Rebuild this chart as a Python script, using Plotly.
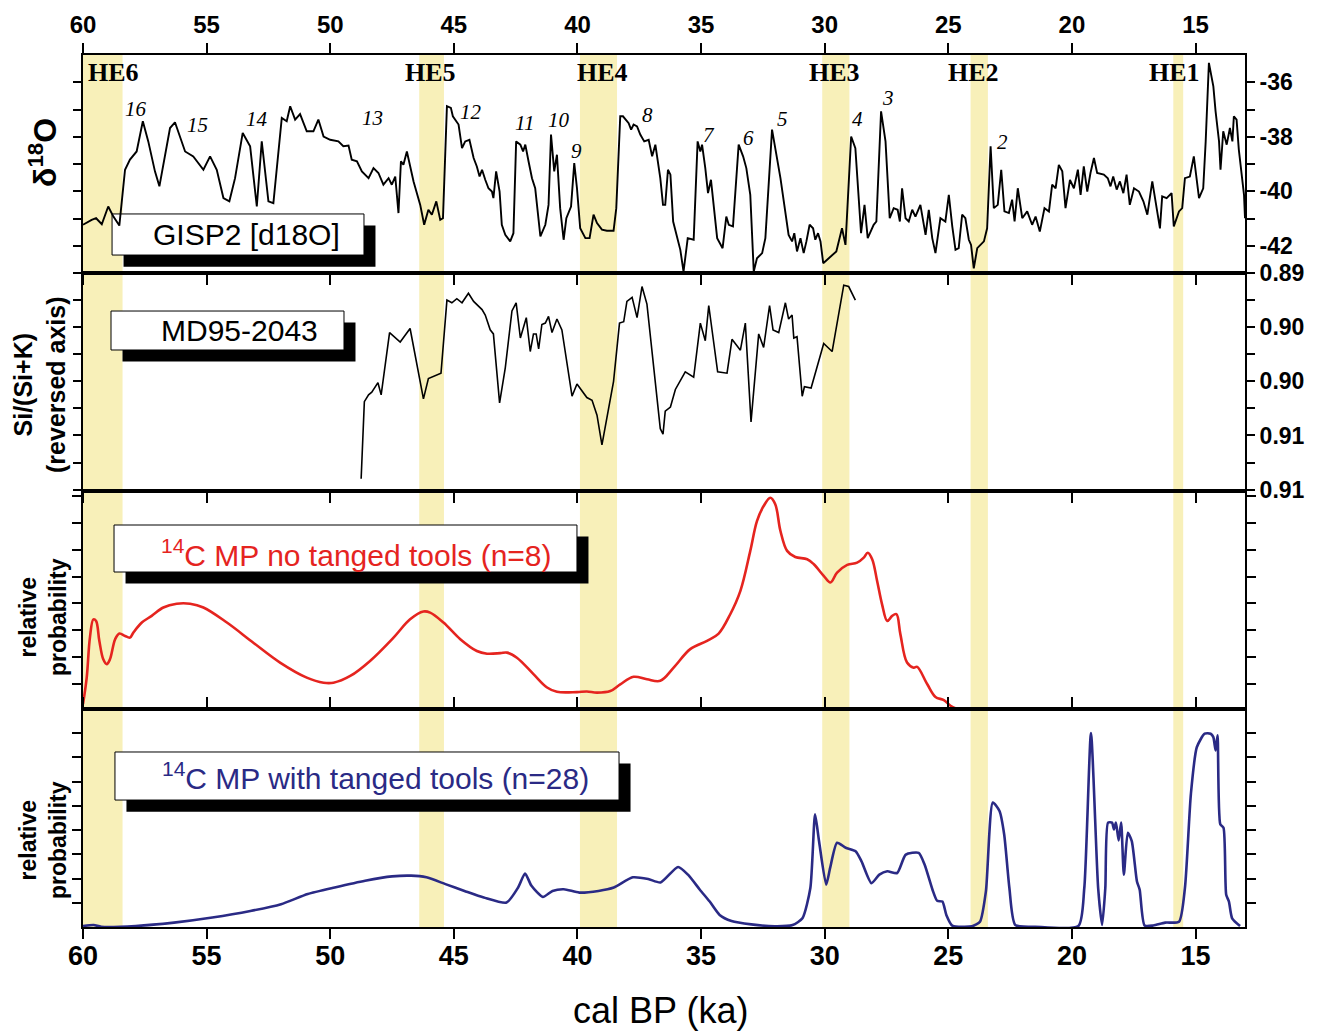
import plotly.graph_objects as go
from plotly.subplots import make_subplots

# ---------------- data ----------------
# GISP2 ice core oxygen isotope record (age in ka cal BP, d18O in permil)
gisp2_age = [60.00, 59.65, 59.47, 59.24, 58.98, 58.77, 58.53, 58.30, 58.10, 57.83,
             57.58, 57.36, 57.09, 56.91, 56.48, 56.28, 55.87, 55.54, 55.13, 54.86,
             54.59, 54.32, 54.08, 53.85, 53.54, 53.24, 52.97, 52.77, 52.50, 52.30,
             51.96, 51.76, 51.62, 51.42, 51.22, 50.95, 50.68, 50.48, 50.27, 50.00,
             49.67, 49.47, 49.26, 49.13, 48.92, 48.72, 48.45, 48.25, 48.05, 47.85,
             47.64, 47.51, 47.37, 47.24, 47.14, 47.04, 46.90, 46.63, 46.36, 46.20,
             46.03, 45.89, 45.71, 45.55, 45.44, 45.28, 45.12, 45.04, 44.81, 44.67,
             44.54, 44.37, 44.20, 44.07, 43.96, 43.86, 43.73, 43.60, 43.46, 43.40,
             43.29, 43.15, 43.06, 42.92, 42.72, 42.59, 42.48, 42.31, 42.20, 42.11,
             41.98, 41.84, 41.71, 41.50, 41.30, 41.17, 41.07, 40.94, 40.83, 40.70,
             40.56, 40.45, 40.26, 40.13, 40.02, 39.89, 39.68, 39.51, 39.35, 39.21,
             39.01, 38.81, 38.54, 38.43, 38.27, 38.16, 37.93, 37.83, 37.73, 37.59,
             37.46, 37.30, 37.12, 36.98, 36.85, 36.65, 36.54, 36.45, 36.34, 36.24,
             36.13, 35.97, 35.84, 35.71, 35.54, 35.30, 35.14, 35.03, 34.96, 34.83,
             34.72, 34.60, 34.49, 34.35, 34.13, 33.98, 33.88, 33.71, 33.48, 33.30,
             33.17, 33.01, 32.87, 32.74, 32.53, 32.40, 32.13, 31.93, 31.79, 31.46,
             31.32, 31.23, 31.12, 30.98, 30.85, 30.74, 30.61, 30.47, 30.38, 30.27,
             30.17, 30.06, 29.90, 29.53, 29.30, 29.16, 28.93, 28.76, 28.53, 28.39,
             28.26, 28.02, 27.91, 27.72, 27.54, 27.37, 27.21, 27.05, 26.96, 26.87,
             26.73, 26.60, 26.46, 26.33, 26.13, 25.92, 25.79, 25.65, 25.52, 25.32,
             25.12, 24.98, 24.84, 24.71, 24.58, 24.44, 24.31, 24.17, 24.08, 23.97,
             23.83, 23.56, 23.43, 23.29, 23.16, 23.00, 22.86, 22.73, 22.55, 22.42,
             22.32, 22.19, 22.01, 21.81, 21.61, 21.47, 21.30, 21.11, 20.93, 20.80,
             20.66, 20.53, 20.39, 20.26, 20.08, 19.92, 19.76, 19.65, 19.52, 19.38,
             19.25, 19.11, 18.98, 18.71, 18.55, 18.44, 18.33, 18.19, 18.06, 17.92,
             17.79, 17.66, 17.49, 17.29, 17.11, 16.95, 16.75, 16.62, 16.44, 16.35,
             16.17, 15.97, 15.88, 15.67, 15.54, 15.43, 15.23, 15.07, 14.86, 14.69,
             14.59, 14.46, 14.36, 14.28, 14.19, 14.05, 13.99, 13.88, 13.74, 13.61,
             13.51, 13.45, 13.34, 13.25, 13.04, 13.00]
gisp2_d18o = [-41.23, -41.05, -40.99, -41.21, -40.56, -40.93, -41.26, -39.21, -38.84, -38.54,
              -37.43, -38.17, -39.27, -39.82, -37.68, -37.47, -38.54, -38.72, -39.21, -38.72,
              -39.21, -40.25, -40.37, -39.52, -37.86, -38.35, -40.56, -38.17, -40.37, -40.44,
              -37.31, -37.43, -36.88, -37.37, -37.17, -37.80, -37.80, -37.37, -37.99, -38.11,
              -38.17, -38.35, -38.32, -38.84, -38.90, -39.27, -39.52, -39.15, -39.33, -39.76,
              -39.52, -39.76, -39.46, -40.80, -38.90, -39.03, -38.54, -39.64, -40.50, -41.23,
              -40.68, -40.86, -40.37, -41.05, -40.99, -36.88, -36.94, -37.25, -37.55, -38.42,
              -38.17, -38.11, -38.78, -39.09, -39.46, -39.21, -39.58, -39.89, -40.01, -40.25,
              -39.27, -40.01, -41.23, -41.60, -41.84, -41.54, -38.17, -38.29, -38.54, -38.29,
              -38.90, -39.52, -39.89, -41.66, -41.23, -40.50, -37.92, -39.27, -38.66, -40.62,
              -41.78, -40.99, -40.56, -38.97, -39.89, -41.36, -41.72, -41.72, -40.86, -41.17,
              -41.41, -41.45, -41.45, -40.62, -37.25, -37.25, -37.50, -37.74, -37.55, -37.62,
              -37.92, -38.17, -38.11, -38.72, -38.29, -39.52, -40.50, -40.50, -39.21, -39.39,
              -41.11, -41.72, -42.15, -42.95, -41.72, -41.78, -38.17, -38.54, -38.29, -39.15,
              -40.07, -39.58, -40.62, -41.72, -42.09, -40.93, -41.23, -41.29, -38.29, -38.72,
              -39.15, -40.13, -42.95, -42.46, -42.27, -41.72, -37.74, -38.78, -39.52, -41.60,
              -41.84, -41.54, -42.21, -41.72, -42.27, -41.84, -41.23, -41.36, -41.78, -41.54,
              -41.84, -42.64, -42.52, -42.21, -41.36, -41.97, -37.99, -38.42, -41.54, -40.50,
              -41.72, -41.23, -41.11, -37.07, -38.17, -40.99, -40.62, -40.68, -41.11, -39.89,
              -40.99, -41.11, -40.68, -40.93, -40.50, -41.60, -40.68, -41.72, -42.27, -40.99,
              -41.11, -40.13, -41.29, -42.15, -42.09, -40.86, -40.99, -41.78, -41.97, -42.83,
              -42.09, -41.84, -41.36, -38.35, -40.62, -40.50, -39.21, -40.74, -40.80, -40.31,
              -41.11, -39.89, -40.99, -40.74, -41.23, -40.93, -41.48, -40.62, -40.74, -39.76,
              -39.89, -39.03, -39.27, -40.62, -39.58, -39.89, -39.21, -40.13, -39.09, -40.01,
              -39.33, -38.78, -39.33, -39.39, -39.52, -39.82, -39.46, -39.94, -39.64, -40.07,
              -39.39, -40.50, -39.89, -40.01, -40.37, -40.86, -39.64, -40.37, -41.36, -40.19,
              -40.25, -40.07, -41.29, -40.74, -40.62, -39.52, -39.46, -38.72, -40.25, -39.89,
              -38.17, -35.29, -35.72, -36.15, -37.07, -38.17, -39.21, -37.80, -38.29, -37.68,
              -38.17, -37.25, -37.37, -38.47, -40.13, -40.99]

# MD95-2043 Si/(Si+K) ratio (plotted on a reversed axis)
md95_age = [48.75, 48.62, 48.45, 48.32, 48.07, 47.94, 47.60, 47.17, 46.77, 46.23,
            46.03, 45.52, 45.28, 45.08, 44.88, 44.67, 44.41, 44.20, 43.86, 43.73,
            43.53, 43.40, 43.15, 42.92, 42.65, 42.48, 42.31, 42.07, 41.91, 41.78,
            41.67, 41.57, 41.44, 41.30, 41.17, 41.03, 40.83, 40.63, 40.22, 40.02,
            39.62, 39.41, 39.21, 39.01, 38.54, 38.30, 38.13, 38.00, 37.79, 37.59,
            37.39, 37.19, 36.65, 36.54, 36.45, 36.24, 36.04, 35.64, 35.30, 35.03,
            34.83, 34.69, 34.33, 33.95, 33.75, 33.41, 33.21, 32.98, 32.67, 32.47,
            32.23, 32.09, 31.86, 31.59, 31.46, 31.32, 31.25, 31.12, 30.91, 30.82,
            30.55, 30.04, 29.70, 29.23, 29.03, 28.76]
md95_ratio = [0.9092, 0.9035, 0.9030, 0.9028, 0.9021, 0.9030, 0.8984, 0.8991, 0.8981, 0.9033,
              0.9018, 0.9014, 0.8960, 0.8962, 0.8959, 0.8962, 0.8955, 0.8961, 0.8967, 0.8971,
              0.8982, 0.8985, 0.9036, 0.9010, 0.8968, 0.8962, 0.8988, 0.8973, 0.8998, 0.8985,
              0.8985, 0.8996, 0.8978, 0.8977, 0.8972, 0.8984, 0.8974, 0.8982, 0.9031, 0.9022,
              0.9032, 0.9034, 0.9045, 0.9067, 0.9020, 0.8977, 0.8976, 0.8961, 0.8958, 0.8973,
              0.8950, 0.8963, 0.9055, 0.9059, 0.9042, 0.9039, 0.9026, 0.9013, 0.9017, 0.8977,
              0.8990, 0.8964, 0.9013, 0.9014, 0.8989, 0.8997, 0.8977, 0.9050, 0.8985, 0.8995,
              0.8964, 0.8982, 0.8984, 0.8962, 0.8974, 0.8971, 0.8988, 0.8987, 0.9031, 0.9024,
              0.9025, 0.8992, 0.8998, 0.8949, 0.8950, 0.8960]

# summed 14C probability, Middle Palaeolithic without tanged tools (n=8)
mp_plain_age = [60.00, 59.85, 59.72, 59.58, 59.47, 59.34, 59.18, 59.04, 58.91, 58.70,
                58.53, 58.30, 58.10, 57.96, 57.62, 57.22, 56.75, 56.21, 55.67, 55.13,
                54.18, 53.11, 52.03, 50.95, 50.27, 49.87, 49.19, 48.39, 47.44, 46.77,
                46.23, 45.96, 45.42, 44.74, 44.07, 43.66, 43.12, 42.85, 42.45, 41.78,
                41.23, 40.83, 40.02, 39.62, 39.21, 38.67, 38.27, 37.73, 37.19, 36.65,
                36.11, 35.44, 34.76, 34.29, 33.82, 33.41, 33.01, 32.74, 32.47, 32.20,
                32.00, 31.79, 31.52, 31.19, 30.71, 30.44, 30.04, 29.77, 29.50, 29.09,
                28.69, 28.42, 28.26, 28.08, 27.88, 27.68, 27.47, 27.27, 27.10, 26.94,
                26.67, 26.40, 26.26, 25.85, 25.52, 25.18, 24.91, 24.64]
mp_plain_prob = [0.25, 1.24, 2.73, 3.41, 3.35, 2.61, 1.92, 1.74, 1.92, 2.67,
                 2.88, 2.79, 2.73, 2.92, 3.29, 3.54, 3.85, 3.99, 3.99, 3.85,
                 3.29, 2.54, 1.80, 1.24, 1.05, 1.05, 1.30, 1.86, 2.73, 3.41,
                 3.70, 3.66, 3.29, 2.67, 2.23, 2.13, 2.15, 2.17, 1.98, 1.37,
                 0.87, 0.71, 0.70, 0.72, 0.68, 0.74, 0.99, 1.27, 1.18, 1.12,
                 1.61, 2.30, 2.61, 2.88, 3.60, 4.47, 5.96, 7.07, 7.63, 7.94,
                 7.70, 6.70, 5.96, 5.73, 5.65, 5.46, 5.03, 4.78, 5.15, 5.44,
                 5.52, 5.71, 5.89, 5.65, 4.84, 3.97, 3.35, 3.54, 3.60, 2.86,
                 1.80, 1.61, 1.64, 0.99, 0.52, 0.40, 0.19, 0.07]

# summed 14C probability, Middle Palaeolithic with tanged tools (n=28)
mp_tanged_age = [60.00, 59.57, 59.26, 57.87, 56.32, 54.77, 53.23, 51.99, 50.91, 49.82,
                 48.59, 47.50, 46.73, 46.11, 45.34, 44.57, 43.79, 42.87, 42.40, 42.12,
                 41.86, 41.40, 41.01, 40.55, 39.93, 39.15, 38.53, 37.76, 37.14, 36.64,
                 35.93, 35.53, 35.05, 34.65, 34.25, 33.77, 32.97, 32.02, 31.30, 30.90,
                 30.58, 30.39, 30.23, 29.94, 29.78, 29.50, 29.15, 28.75, 28.51, 28.11,
                 27.79, 27.47, 27.07, 26.72, 26.20, 25.96, 25.64, 25.45, 25.24, 25.08,
                 24.84, 24.04, 23.72, 23.48, 23.20, 22.93, 22.74, 22.53, 22.29, 21.49,
                 19.74, 19.50, 19.23, 18.94, 18.78, 18.65, 18.54, 18.38, 18.30, 18.22,
                 18.11, 18.01, 17.90, 17.74, 17.58, 17.37, 17.26, 17.06, 16.71, 16.23,
                 15.67, 15.43, 15.19, 14.95, 14.63, 14.39, 14.28, 14.19, 14.11, 14.00,
                 13.87, 13.76, 13.65, 13.52, 13.20]
mp_tanged_prob = [0.04, 0.08, 0.01, 0.04, 0.18, 0.39, 0.66, 0.94, 1.36, 1.63,
                  1.91, 2.09, 2.12, 2.05, 1.77, 1.49, 1.22, 1.01, 1.63, 2.21,
                  1.70, 1.24, 1.49, 1.56, 1.42, 1.49, 1.63, 2.05, 1.98, 1.84,
                  2.48, 2.16, 1.54, 1.05, 0.50, 0.25, 0.11, 0.03, 0.08, 0.36,
                  1.61, 4.65, 3.55, 1.75, 2.44, 3.48, 3.27, 3.13, 2.71, 1.81,
                  2.16, 2.30, 2.23, 2.99, 3.06, 2.58, 1.54, 1.08, 1.05, 0.50,
                  0.06, 0.03, 0.22, 1.47, 5.14, 4.79, 3.82, 1.61, 0.08, 0.01,
                  0.04, 1.61, 8.01, 1.61, 0.08, 1.61, 4.31, 4.31, 4.03, 4.31,
                  3.57, 4.31, 2.16, 3.89, 3.55, 1.88, 1.54, 0.06, 0.06, 0.18,
                  0.22, 1.61, 5.48, 7.42, 7.98, 7.98, 7.84, 7.29, 7.91, 4.24,
                  4.10, 1.33, 1.05, 0.36, 0.04]

# Heinrich events (ka cal BP)
he_names = ["HE6", "HE5", "HE4", "HE3", "HE2", "HE1"]
he_start = [60.0, 46.4, 39.9, 30.1, 24.1, 15.9]
he_end = [58.4, 45.4, 38.4, 29.0, 23.4, 15.5]

# Greenland interstadial numbers
gi_numbers = ["16", "15", "14", "13", "12", "11", "10", "9", "8", "7", "6", "5", "4", "3", "2"]

x_ticks = [60, 55, 50, 45, 40, 35, 30, 25, 20, 15]
d18o_major = [-42, -40, -38, -36]
d18o_labels = ["-42", "-40", "-38", "-36"]
d18o_minor = [-41, -39, -37]
ratio_major = [0.894, 0.898, 0.902, 0.906, 0.910]
ratio_labels = ["0.89", "0.90", "0.90", "0.91", "0.91"]
ratio_minor = [0.896, 0.900, 0.904, 0.908]
prob_ticks = [1, 2, 3, 4, 5, 6, 7, 8]

# ---------------- styling ----------------
SANS = "Liberation Sans, Arial, sans-serif"
NARROW = "Liberation Sans Narrow, Arial Narrow, Liberation Sans, sans-serif"
SERIF = "Liberation Serif, Times New Roman, serif"
RED = "#e5241f"
NAVY = "#2a2a85"
BAND = "#f8f0b9"

fig = make_subplots(rows=4, cols=1, vertical_spacing=0)

fig.add_trace(go.Scatter(x=gisp2_age, y=gisp2_d18o, mode="lines",
                         line=dict(color="black", width=1.9)), row=1, col=1)
fig.add_trace(go.Scatter(x=md95_age, y=md95_ratio, mode="lines",
                         line=dict(color="black", width=1.6)), row=2, col=1)
fig.add_trace(go.Scatter(x=mp_plain_age, y=mp_plain_prob, mode="lines",
                         line=dict(color=RED, width=2.6, shape="spline", smoothing=1.0)),
              row=3, col=1)
fig.add_trace(go.Scatter(x=mp_tanged_age, y=mp_tanged_prob, mode="lines",
                         line=dict(color=NAVY, width=2.6, shape="spline", smoothing=0.6)),
              row=4, col=1)

axis_common = dict(showline=True, linecolor="black", linewidth=2, showgrid=False,
                   zeroline=False, tickcolor="black", tickwidth=2)
minor_common = dict(ticks="outside", ticklen=8, tickwidth=2, tickcolor="black")

# x axes (reversed age scale)
fig.update_xaxes(range=[60, 13], tickvals=x_ticks, **axis_common)
fig.update_xaxes(row=1, col=1, side="top", ticks="outside", ticklen=10, mirror="allticks",
                 tickfont=dict(family=SANS, size=24, color="black", weight="bold"))
fig.update_xaxes(row=2, col=1, ticks="outside", ticklen=10, mirror=True, showticklabels=False)
fig.update_xaxes(row=3, col=1, ticks="", mirror=True, showticklabels=False)
fig.update_xaxes(row=4, col=1, ticks="outside", ticklen=10, mirror="allticks",
                 ticklabelstandoff=-6,
                 tickfont=dict(family=NARROW, size=27, color="black", weight="bold"))

# y axes
fig.update_yaxes(row=1, col=1, range=[-43.0, -35.0], side="right", tickvals=d18o_major,
                 ticktext=d18o_labels, ticks="outside", ticklen=8, mirror="allticks",
                 minor=dict(tickvals=d18o_minor, **minor_common),
                 tickfont=dict(family=SANS, size=23, color="black", weight="bold"), **axis_common)
fig.update_yaxes(row=2, col=1, range=[0.9101, 0.894], side="right", tickvals=ratio_major,
                 ticktext=ratio_labels, ticks="outside", ticklen=8, mirror="allticks",
                 minor=dict(tickvals=ratio_minor, **minor_common),
                 tickfont=dict(family=SANS, size=23, color="black", weight="bold"), **axis_common)
fig.update_yaxes(row=3, col=1, range=[0.07, 8.19], tickvals=prob_ticks, showticklabels=False,
                 ticks="outside", ticklen=9, mirror="allticks", **axis_common)
fig.update_yaxes(row=4, col=1, range=[0, 9], tickvals=prob_ticks, showticklabels=False,
                 ticks="outside", ticklen=9, mirror="allticks", **axis_common)

shapes = []
# Heinrich event bands spanning all panels
for s, e in zip(he_start, he_end):
    shapes.append(dict(type="rect", xref="x", yref="paper", x0=s, x1=e, y0=0, y1=1,
                       fillcolor=BAND, line=dict(width=0), layer="below"))

# label boxes with drop shadow (paper units)
label_boxes = [
    (0.0250, 0.2418, 0.7706, 0.8177),
    (0.0241, 0.2246, 0.6617, 0.7064),
    (0.0267, 0.4251, 0.4071, 0.4610),
    (0.0275, 0.4613, 0.1456, 0.2007),
]
sdx, sdy = 0.0099, -0.0133
for x0, x1, y0, y1 in label_boxes:
    shapes.append(dict(type="rect", xref="paper", yref="paper", x0=x0 + sdx, x1=x1 + sdx,
                       y0=y0 + sdy, y1=y1 + sdy, fillcolor="black", line=dict(width=0),
                       layer="below"))
    shapes.append(dict(type="rect", xref="paper", yref="paper", x0=x0, x1=x1, y0=y0, y1=y1,
                       fillcolor="white", line=dict(color="black", width=1), layer="below"))

annotations = []
box_texts = [
    ("GISP2 [d18O]", 0.1403, 0.7936, "black"),
    ("MD95-2043", 0.1351, 0.6835, "black"),
    ("<sup>14</sup>C MP no tanged tools (n=8)", 0.2354, 0.4289, RED),
    ("<sup>14</sup>C MP with tanged tools (n=28)", 0.2517, 0.1732, NAVY),
]
for txt, x, y, col in box_texts:
    annotations.append(dict(text=txt, xref="paper", yref="paper", x=x, y=y, showarrow=False,
                            xanchor="center", yanchor="middle",
                            font=dict(family=SANS, size=30, color=col)))

# Heinrich event labels
he_label_x = [58.75, 45.95, 38.99, 29.6, 23.97, 15.87]
for name, x in zip(he_names, he_label_x):
    annotations.append(dict(text=name, xref="x", yref="paper", x=x, y=0.9794, showarrow=False,
                            xanchor="center", yanchor="middle",
                            font=dict(family=SERIF, size=26, color="black", weight="bold")))

# interstadial number labels
gi_pos = [(57.85, -36.99), (55.38, -37.58), (52.96, -37.36), (48.3, -37.32), (44.29, -37.1),
          (42.15, -37.5), (40.73, -37.4), (40.04, -38.54), (37.17, -37.2), (34.66, -37.95),
          (33.08, -38.06), (31.7, -37.36), (28.66, -37.36), (27.45, -36.59), (22.79, -38.2)]
for num, (x, y) in zip(gi_numbers, gi_pos):
    annotations.append(dict(text="<i>" + num + "</i>", xref="x", yref="y", x=x, y=y,
                            showarrow=False, xanchor="center", yanchor="middle",
                            font=dict(family=SERIF, size=21, color="black")))

# y axis titles
ytitles = [
    ("δ<sup>18</sup>O", -0.035, 0.888, 32),
    ("Si/(Si+K)<br>(reversed axis)", -0.037, 0.6216, 25),
    ("relative<br>probability", -0.0344, 0.3555, 23),
    ("relative<br>probability", -0.0344, 0.0998, 23),
]
for txt, x, y, size in ytitles:
    annotations.append(dict(text=txt, xref="paper", yref="paper", x=x, y=y, showarrow=False,
                            textangle=-90, xanchor="center", yanchor="middle",
                            font=dict(family=SANS, size=size, color="black", weight="bold")))

# x axis title
annotations.append(dict(text="cal BP (ka)", xref="paper", yref="paper", x=0.497, y=-0.0952,
                        showarrow=False, xanchor="center", yanchor="middle",
                        font=dict(family=SANS, size=36, color="black")))

fig.update_layout(
    width=1320, height=1031,
    margin=dict(l=83, r=75, t=55, b=104),
    paper_bgcolor="white", plot_bgcolor="rgba(0,0,0,0)",
    showlegend=False,
    shapes=shapes, annotations=annotations,
)

fig.write_html("out.html")
